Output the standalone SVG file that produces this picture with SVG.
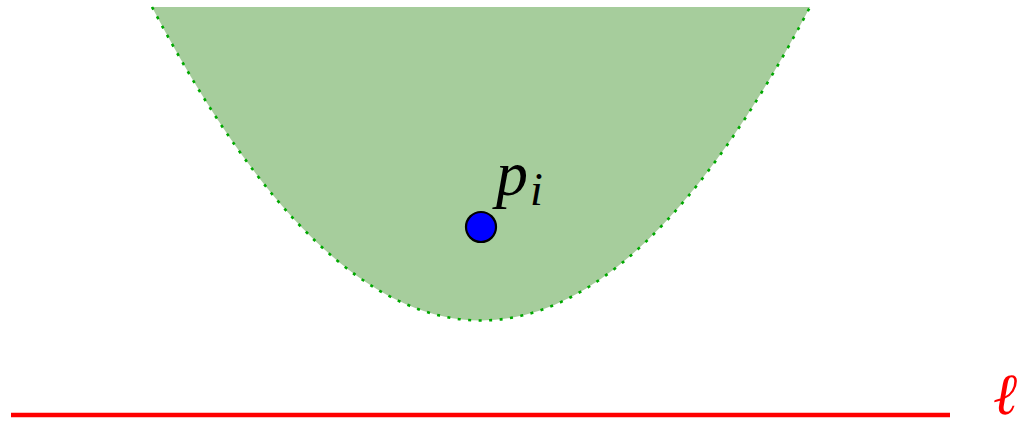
<svg xmlns="http://www.w3.org/2000/svg" width="1023" height="421" viewBox="0 0 1023 421">
<style>
.fillr{fill:#a6cd9c;stroke:none;}
.edge{fill:none;stroke:#00a800;stroke-width:2.6;stroke-dasharray:3 7.5;}
.line{stroke:#ff0000;stroke-width:4.5;fill:none;}
.pt{fill:#0000ff;stroke:#000;stroke-width:2.2;}
.lbl{font-family:"Liberation Serif","DejaVu Serif",serif;font-style:italic;}
</style>
<g id="region">
<path class="fillr" d="M152,7 Q481,634 810,7 Z"/>
<path class="edge" d="M152,7 Q481,634 810,7"/>
</g>
<g id="connectors">
<line class="line" x1="11" y1="415" x2="950" y2="415"/>
</g>
<g id="point">
<circle class="pt" cx="481" cy="227" r="15"/>
<text class="lbl" x="496" y="195" font-size="64">p</text>
<text class="lbl" x="530" y="205" font-size="46">i</text>
</g>
<g id="label-l">
<text x="993" y="414" font-size="58" fill="#ff0000" font-family="DejaVu Serif, serif" font-style="italic">ℓ</text>
</g>
</svg>
